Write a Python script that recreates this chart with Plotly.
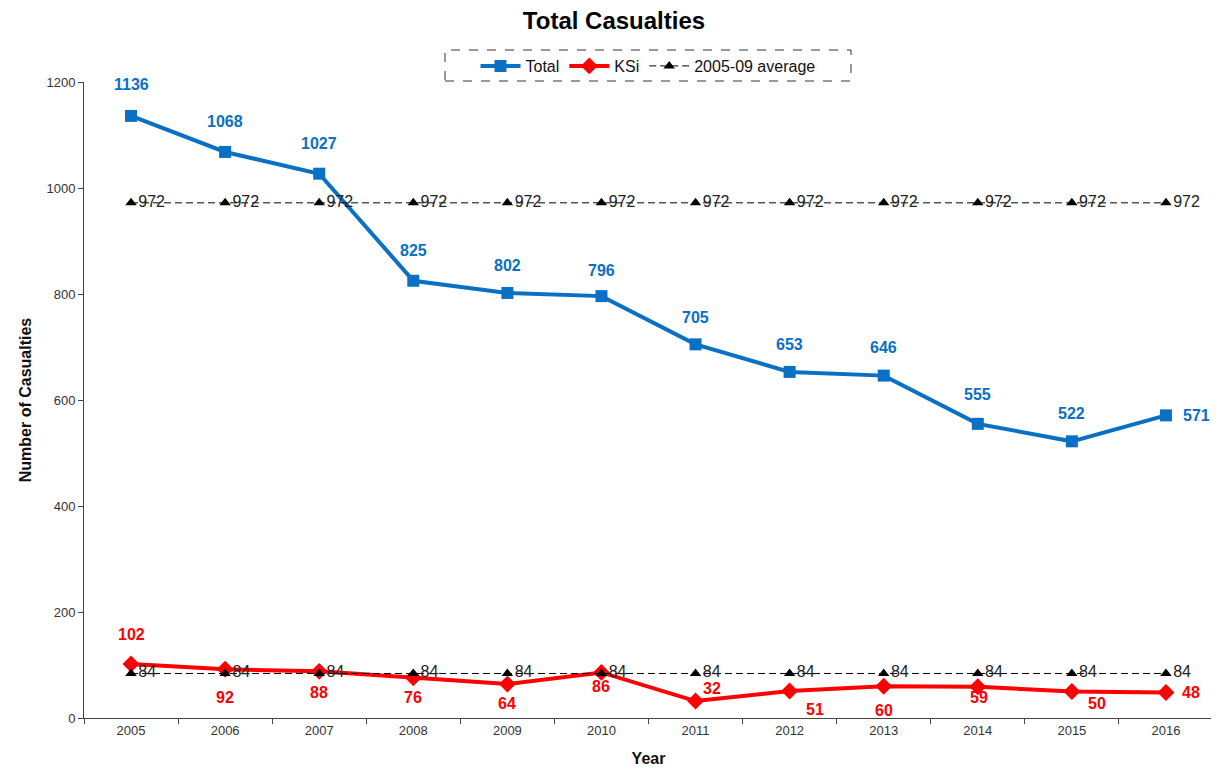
import plotly.graph_objects as go

years = ["2005", "2006", "2007", "2008", "2009", "2010", "2011", "2012", "2013", "2014", "2015", "2016"]
total = [1136, 1068, 1027, 825, 802, 796, 705, 653, 646, 555, 522, 571]
ksi = [102, 92, 88, 76, 64, 86, 32, 51, 60, 59, 50, 48]
avg_total = [972] * 12
avg_ksi = [84] * 12

# label offsets (pixels) for data labels
total_dx = [0] * 11 + [31]
total_dy = [31, 30, 30, 30, 27, 26, 27, 27, 28, 29, 28, 0]
ksi_dx = [0, 0, 0, 0, 0, 0, 16, 25, 0, 1, 25, 25]
ksi_dy = [29, -28, -21, -20, -19, -14, 13, -19, -24, -11, -12, 0]

BLUE = "#0A70C4"
RED = "#FF0000"
FONT = "Liberation Sans, Arial, sans-serif"

fig = go.Figure()
fig.add_trace(go.Scatter(x=years, y=total, name="Total", mode="lines+markers",
                         line=dict(color=BLUE, width=4),
                         marker=dict(symbol="square", size=12, color=BLUE)))
fig.add_trace(go.Scatter(x=years, y=ksi, name="KSi", mode="lines+markers",
                         line=dict(color=RED, width=4),
                         marker=dict(symbol="diamond", size=13, color=RED)))
fig.add_trace(go.Scatter(x=years, y=avg_total, name="2005-09 average", mode="lines+markers+text",
                         text=[str(v) for v in avg_total], textposition="middle right",
                         textfont=dict(size=16, color="#222222", family=FONT),
                         line=dict(color="black", width=1, dash="7px,4px"),
                         marker=dict(symbol="triangle-up", size=10, color="black")))
fig.add_trace(go.Scatter(x=years, y=avg_ksi, name="avg ksi", showlegend=False, mode="lines+markers+text",
                         text=[str(v) for v in avg_ksi], textposition="middle right",
                         textfont=dict(size=16, color="#222222", family=FONT),
                         line=dict(color="black", width=1, dash="7px,4px"),
                         marker=dict(symbol="triangle-up", size=10, color="black")))

for i, v in enumerate(total):
    fig.add_annotation(x=i, y=v, text=f"<b>{v}</b>", showarrow=False,
                       xshift=total_dx[i], yshift=total_dy[i],
                       font=dict(size=16, color=BLUE, family=FONT))
for i, v in enumerate(ksi):
    fig.add_annotation(x=i, y=v, text=f"<b>{v}</b>", showarrow=False,
                       xshift=ksi_dx[i], yshift=ksi_dy[i],
                       font=dict(size=16, color=RED, family=FONT))

fig.add_shape(type="rect", xref="paper", yref="paper",
              x0=(445 - 84) / 1129, x1=(851 - 84) / 1129,
              y0=(718 - 81) / 636, y1=(718 - 50) / 636,
              line=dict(color="#333333", width=1, dash="dash"))

fig.update_layout(
    width=1219, height=780,
    paper_bgcolor="white", plot_bgcolor="white",
    margin=dict(l=76, r=14, t=74, b=70, autoexpand=False),
    font=dict(family=FONT, color="#333333"),
    title=dict(text="<b>Total Casualties</b>", x=606 / 1219, xanchor="center", y=1 - 4 / 780, yanchor="top",
               font=dict(size=24, color="black", family=FONT)),
    legend=dict(orientation="h", x=(648 - 84) / 1129, xanchor="center", y=(718 - 66) / 636, yanchor="middle",
                bgcolor="rgba(0,0,0,0)", font=dict(size=16, color="#111111", family=FONT),
                itemwidth=40, tracegroupgap=0),
    showlegend=True,
)
fig.update_xaxes(type="category", range=[-0.5, 11.5], showline=True, linecolor="#444444", linewidth=1,
                 ticks="outside", tickson="boundaries", ticklen=5, tickcolor="#444444",
                 showgrid=False, zeroline=False, automargin=False,
                 tickfont=dict(size=13, color="#333333"),
                 title=dict(text="<b>Year</b>", font=dict(size=16, color="#111111"), standoff=16))
fig.update_yaxes(range=[0, 1200], dtick=200, showline=True, linecolor="#444444", linewidth=1,
                 ticks="outside", ticklen=5, tickcolor="#444444", showgrid=False, zeroline=False,
                 automargin=False,
                 tickfont=dict(size=13, color="#333333"),
                 title=dict(text="<b>Number of Casualties</b>", font=dict(size=16, color="#111111"), standoff=10))

fig.write_html("out.html")
